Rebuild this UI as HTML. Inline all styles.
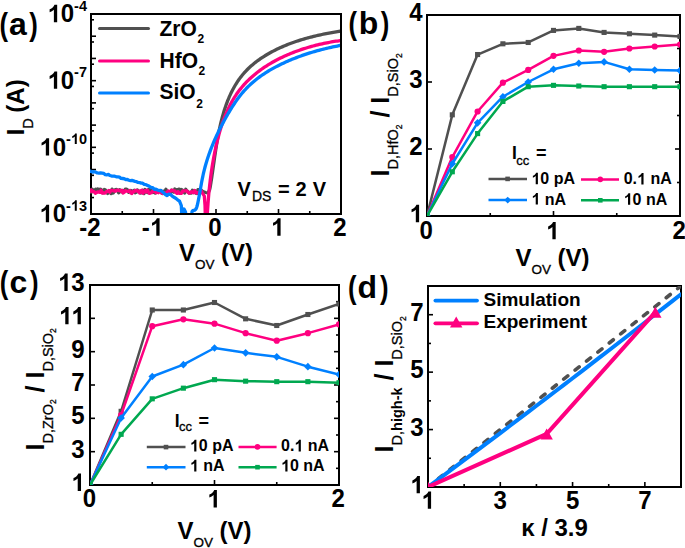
<!DOCTYPE html><html><head><meta charset="utf-8"><style>html,body{margin:0;padding:0;background:#fff;overflow:hidden}svg{display:block}text{font-family:"Liberation Sans",sans-serif}.sb,.sb2{stroke:#000;stroke-width:0.3px}</style></head><body><svg width="685" height="548" viewBox="0 0 685 548" font-family="Liberation Sans, sans-serif">
<rect width="685" height="548" fill="#fff"/>
<defs><clipPath id="ca"><rect x="90" y="13" width="250" height="200"/></clipPath></defs>
<rect x="91" y="14" width="250" height="200" fill="none" stroke="#000" stroke-width="2"/>
<line x1="91" y1="214" x2="91" y2="209" stroke="#000" stroke-width="1.6"/>
<line x1="153.5" y1="214" x2="153.5" y2="209" stroke="#000" stroke-width="1.6"/>
<line x1="216" y1="214" x2="216" y2="209" stroke="#000" stroke-width="1.6"/>
<line x1="278.5" y1="214" x2="278.5" y2="209" stroke="#000" stroke-width="1.6"/>
<line x1="341" y1="214" x2="341" y2="209" stroke="#000" stroke-width="1.6"/>
<line x1="122.25" y1="214" x2="122.25" y2="211" stroke="#000" stroke-width="1.6"/>
<line x1="184.75" y1="214" x2="184.75" y2="211" stroke="#000" stroke-width="1.6"/>
<line x1="247.25" y1="214" x2="247.25" y2="211" stroke="#000" stroke-width="1.6"/>
<line x1="309.75" y1="214" x2="309.75" y2="211" stroke="#000" stroke-width="1.6"/>
<line x1="91" y1="214" x2="96" y2="214" stroke="#000" stroke-width="1.6"/>
<line x1="91" y1="191.78" x2="96" y2="191.78" stroke="#000" stroke-width="1.6"/>
<line x1="91" y1="169.56" x2="96" y2="169.56" stroke="#000" stroke-width="1.6"/>
<line x1="91" y1="147.33" x2="96" y2="147.33" stroke="#000" stroke-width="1.6"/>
<line x1="91" y1="125.11" x2="96" y2="125.11" stroke="#000" stroke-width="1.6"/>
<line x1="91" y1="102.89" x2="96" y2="102.89" stroke="#000" stroke-width="1.6"/>
<line x1="91" y1="80.67" x2="96" y2="80.67" stroke="#000" stroke-width="1.6"/>
<line x1="91" y1="58.44" x2="96" y2="58.44" stroke="#000" stroke-width="1.6"/>
<line x1="91" y1="36.22" x2="96" y2="36.22" stroke="#000" stroke-width="1.6"/>
<line x1="91" y1="14" x2="96" y2="14" stroke="#000" stroke-width="1.6"/>
<line x1="91" y1="197.55" x2="94" y2="197.55" stroke="#000" stroke-width="1.6"/>
<line x1="91" y1="175.33" x2="94" y2="175.33" stroke="#000" stroke-width="1.6"/>
<line x1="91" y1="153.1" x2="94" y2="153.1" stroke="#000" stroke-width="1.6"/>
<line x1="91" y1="130.88" x2="94" y2="130.88" stroke="#000" stroke-width="1.6"/>
<line x1="91" y1="108.66" x2="94" y2="108.66" stroke="#000" stroke-width="1.6"/>
<line x1="91" y1="86.44" x2="94" y2="86.44" stroke="#000" stroke-width="1.6"/>
<line x1="91" y1="64.21" x2="94" y2="64.21" stroke="#000" stroke-width="1.6"/>
<line x1="91" y1="41.99" x2="94" y2="41.99" stroke="#000" stroke-width="1.6"/>
<line x1="91" y1="19.77" x2="94" y2="19.77" stroke="#000" stroke-width="1.6"/>
<g clip-path="url(#ca)">
<path d="M89,190.45 L90.1,189.62 L91.2,192.02 L92.3,189.25 L93.4,191.47 L94.5,190.66 L95.6,189.18 L96.7,191.34 L97.8,189.08 L98.9,190.98 L100,189.24 L101.1,189.34 L102.2,190.94 L103.3,192.87 L104.4,189.49 L105.5,189.97 L106.6,191.91 L107.7,193.45 L108.8,191.67 L109.9,190.8 L111,193.59 L112.1,189.12 L113.2,193.02 L114.3,190.29 L115.4,189.59 L116.5,189.47 L117.6,190.38 L118.7,192.82 L119.8,189.77 L120.9,191.69 L122,191.97 L123.1,190.69 L124.2,191.53 L125.3,189.2 L126.4,189.19 L127.5,189.89 L128.6,192.17 L129.7,190.95 L130.8,190.41 L131.9,191.71 L133,191.08 L134.1,190.34 L135.2,192.71 L136.3,192.26 L137.4,190.07 L138.5,191.66 L139.6,191.42 L140.7,193.1 L141.8,192.4 L142.9,190.28 L144,193.6 L145.1,189.47 L146.2,190.91 L147.3,192.53 L148.4,189.63 L149.5,191.25 L150.6,189.09 L151.7,192.11 L152.8,192.57 L153.9,191.65 L155,193.1 L156.1,190.41 L157.2,192.24 L158.3,191.75 L159.4,191.68 L160.5,191.09 L161.6,192.93 L162.7,193.43 L163.8,191.18 L164.9,192.09 L166,189.19 L167.1,192.27 L168.2,192.01 L169.3,193.67 L170.4,192.85 L171.5,190.27 L172.6,190.75 L173.7,192.11 L174.8,189.01 L175.9,191.12 L177,189.71 L178.1,189.46 L179.2,189.18 L180.3,192.59 L181.4,189.52 L182.5,190.09 L183.6,190.78 L184.7,193.08 L185.8,189.29 L186.9,191.06 L188,191.54 L189.1,193.14 L190.2,192.83 L191.3,193.05 L192.4,190.24 L193.5,190.89 L194.6,190.62 L195.7,193.14 L196.8,193.5 L197.9,189.62 L199,189.75 L200.1,190.01 L201.2,190.02 L202.3,191.23 L205.5,192.5 L208,193 L209.5,190 L209.97,188.33 L210.2,186.99 L210.43,185.65 L210.66,184.3 L210.88,182.94 L211.1,181.57 L211.32,180.19 L211.53,178.81 L211.75,177.42 L211.96,176.02 L212.16,174.62 L212.37,173.2 L212.58,171.78 L212.78,170.36 L212.98,168.93 L213.19,167.5 L213.39,166.06 L213.6,164.61 L213.8,163.16 L214.01,161.71 L214.21,160.25 L214.42,158.79 L214.63,157.33 L214.84,155.86 L215.06,154.39 L215.28,152.92 L215.5,151.44 L215.72,149.97 L215.95,148.49 L216.19,147.01 L216.42,145.53 L216.66,144.05 L216.91,142.57 L217.16,141.09 L217.42,139.62 L217.68,138.14 L217.95,136.66 L218.23,135.18 L218.51,133.71 L218.8,132.24 L219.1,130.77 L219.4,129.3 L219.72,127.83 L220.04,126.37 L220.37,124.91 L220.71,123.46 L221.06,122.01 L221.41,120.56 L221.78,119.12 L222.16,117.69 L222.55,116.25 L222.95,114.83 L223.36,113.41 L223.78,112 L224.21,110.59 L224.66,109.19 L225.12,107.79 L225.59,106.41 L226.07,105.03 L226.57,103.66 L227.08,102.3 L227.6,100.95 L228.14,99.6 L228.7,98.27 L229.26,96.94 L229.85,95.63 L230.45,94.32 L231.06,93.02 L231.69,91.74 L232.34,90.47 L233,89.2 L233.68,87.95 L234.38,86.71 L235.09,85.49 L235.82,84.27 L236.58,83.07 L237.35,81.89 L238.13,80.71 L238.94,79.55 L239.77,78.4 L240.61,77.27 L241.48,76.15 L242.37,75.05 L243.27,73.96 L244.2,72.89 L245.15,71.84 L246.12,70.8 L247.12,69.77 L248.13,68.77 L249.16,67.77 L250.21,66.8 L251.28,65.84 L252.37,64.89 L253.48,63.96 L254.61,63.05 L255.75,62.15 L256.9,61.27 L258.08,60.4 L259.27,59.55 L260.47,58.71 L261.69,57.88 L262.92,57.07 L264.17,56.28 L265.42,55.5 L266.69,54.73 L267.98,53.98 L269.27,53.24 L270.57,52.52 L271.89,51.81 L273.21,51.11 L274.54,50.43 L275.88,49.76 L277.23,49.11 L278.59,48.47 L279.95,47.84 L281.32,47.22 L282.69,46.62 L284.07,46.03 L285.46,45.45 L286.85,44.89 L288.24,44.34 L289.64,43.8 L291.04,43.27 L292.44,42.76 L293.85,42.26 L295.25,41.77 L296.66,41.29 L298.06,40.83 L299.47,40.38 L300.88,39.93 L302.28,39.5 L303.69,39.08 L305.09,38.68 L306.5,38.28 L307.9,37.89 L309.31,37.51 L310.71,37.14 L312.12,36.78 L313.52,36.43 L314.93,36.09 L316.34,35.76 L317.74,35.44 L319.15,35.12 L320.56,34.81 L321.97,34.51 L323.38,34.22 L324.79,33.94 L326.2,33.66 L327.61,33.38 L329.02,33.12 L330.43,32.86 L331.85,32.6 L333.26,32.35 L334.68,32.11 L336.1,31.87 L337.51,31.64 L338.93,31.41 L340.35,31.18 L341.77,30.96" fill="none" stroke="#505050" stroke-width="3.3" stroke-linejoin="round" stroke-linecap="round"/>
<path d="M89,192.1 L90.1,190.99 L91.2,190.11 L92.3,191.52 L93.4,191.36 L94.5,192.03 L95.6,193.34 L96.7,192.45 L97.8,191.85 L98.9,192.2 L100,192.4 L101.1,190.28 L102.2,193.16 L103.3,192.75 L104.4,193.07 L105.5,192.81 L106.6,191.43 L107.7,191.46 L108.8,190.45 L109.9,192.26 L111,190.31 L112.1,190.33 L113.2,190.81 L114.3,190.65 L115.4,191.26 L116.5,190.28 L117.6,190.1 L118.7,190.61 L119.8,190.44 L120.9,191.34 L122,190.19 L123.1,193.07 L124.2,192.19 L125.3,190.61 L126.4,190.96 L127.5,191.28 L128.6,191.34 L129.7,190.52 L130.8,192.99 L131.9,193.48 L133,191.68 L134.1,191.75 L135.2,190.39 L136.3,190.45 L137.4,191.26 L138.5,191 L139.6,192.92 L140.7,190.65 L141.8,190.18 L142.9,193.33 L144,191.9 L145.1,190.6 L146.2,191.95 L147.3,190.19 L148.4,191.9 L149.5,193.43 L150.6,193.04 L151.7,192.47 L152.8,190.99 L153.9,191.35 L155,190.67 L156.1,192.72 L157.2,191.91 L158.3,192.75 L159.4,191.22 L160.5,190.86 L161.6,192.86 L162.7,193.45 L163.8,193 L164.9,192.84 L166,192.88 L167.1,192.62 L168.2,190.87 L169.3,191.86 L170.4,191.31 L171.5,190.2 L172.6,190.19 L173.7,191.05 L174.8,190.98 L175.9,192.45 L177,193.35 L178.1,191.62 L179.2,193.29 L180.3,193.46 L181.4,193.35 L182.5,191.34 L183.6,190.85 L184.7,190.87 L185.8,190.77 L186.9,190.79 L188,192.22 L189.1,193.16 L190.2,192.96 L191.3,191.73 L192.4,192.32 L193.5,192.82 L194.6,190.39 L195.7,192.35 L196.8,193.19 L197.9,192.76 L199,192.65 L200.1,191.73 L201.2,190.71 L202.3,192.78 L204.3,196 L205,205 L205.3,216 L207.5,216 L207.3,214.27 L207.39,212.73 L207.49,211.19 L207.59,209.65 L207.69,208.1 L207.8,206.56 L207.91,205.02 L208.02,203.47 L208.14,201.93 L208.26,200.39 L208.38,198.84 L208.51,197.3 L208.64,195.75 L208.78,194.21 L208.93,192.66 L209.07,191.12 L209.23,189.57 L209.38,188.03 L209.55,186.48 L209.71,184.94 L209.89,183.39 L210.07,181.84 L210.25,180.3 L210.44,178.75 L210.64,177.2 L210.84,175.66 L211.05,174.11 L211.27,172.56 L211.49,171.02 L211.72,169.47 L211.95,167.92 L212.19,166.37 L212.44,164.83 L212.7,163.28 L212.96,161.73 L213.23,160.19 L213.51,158.64 L213.8,157.09 L214.09,155.54 L214.39,154 L214.7,152.45 L215.02,150.9 L215.35,149.36 L215.68,147.81 L216.02,146.26 L216.38,144.72 L216.74,143.17 L217.11,141.63 L217.49,140.08 L217.88,138.54 L218.28,137 L218.69,135.47 L219.11,133.93 L219.55,132.41 L219.99,130.88 L220.45,129.36 L220.92,127.84 L221.4,126.33 L221.89,124.83 L222.4,123.33 L222.92,121.84 L223.45,120.35 L224,118.87 L224.57,117.4 L225.14,115.94 L225.74,114.49 L226.35,113.05 L226.97,111.61 L227.61,110.19 L228.27,108.77 L228.94,107.37 L229.63,105.98 L230.34,104.6 L231.06,103.23 L231.8,101.88 L232.56,100.54 L233.34,99.21 L234.14,97.9 L234.96,96.6 L235.79,95.31 L236.65,94.04 L237.53,92.79 L238.42,91.55 L239.34,90.33 L240.28,89.12 L241.24,87.93 L242.22,86.76 L243.21,85.6 L244.23,84.46 L245.26,83.34 L246.32,82.23 L247.39,81.14 L248.48,80.06 L249.59,79 L250.71,77.95 L251.85,76.93 L253,75.91 L254.18,74.91 L255.37,73.93 L256.57,72.96 L257.79,72.01 L259.02,71.08 L260.27,70.15 L261.53,69.25 L262.8,68.36 L264.09,67.48 L265.39,66.62 L266.7,65.77 L268.02,64.94 L269.36,64.12 L270.7,63.32 L272.06,62.53 L273.43,61.75 L274.81,60.99 L276.2,60.25 L277.6,59.52 L279.01,58.8 L280.42,58.09 L281.85,57.4 L283.28,56.73 L284.72,56.07 L286.17,55.42 L287.63,54.78 L289.09,54.16 L290.56,53.56 L292.03,52.96 L293.51,52.38 L295,51.81 L296.49,51.26 L297.99,50.72 L299.49,50.19 L300.99,49.67 L302.5,49.17 L304.01,48.68 L305.52,48.21 L307.04,47.74 L308.56,47.29 L310.08,46.85 L311.6,46.42 L313.12,46.01 L314.65,45.61 L316.17,45.22 L317.69,44.84 L319.22,44.48 L320.74,44.12 L322.26,43.78 L323.78,43.45 L325.3,43.13 L326.82,42.83 L328.34,42.53 L329.85,42.25 L331.36,41.98 L332.86,41.72 L334.37,41.47 L335.86,41.23 L337.36,41.01 L338.84,40.79 L340.33,40.59 L341.81,40.39" fill="none" stroke="#ff0080" stroke-width="3.3" stroke-linejoin="round" stroke-linecap="round"/>
<path d="M89,170.73 L91,171.5 L92.58,172 L94.16,171.75 L95.75,172.08 L97.33,172.96 L98.91,173.06 L100.49,172.83 L102.07,173.12 L103.65,173.47 L105.24,174.55 L106.82,174.78 L108.4,174.45 L109.98,175.52 L111.55,176.06 L113.13,176.13 L114.71,176.22 L116.28,176.81 L117.86,176.78 L119.44,177.06 L121.02,178.41 L122.59,178.48 L124.17,178.75 L125.75,179.55 L127.32,179.44 L128.9,180.27 L130.43,180.64 L131.96,180.43 L133.49,180.88 L135.02,181.33 L136.55,181.69 L138.08,182.45 L139.61,182.53 L141.14,183.1 L142.67,183.22 L144.2,184.41 L145.9,184.6 L147.6,185.46 L149.3,186.33 L151,187.4 L152.7,187.67 L154.4,189.25 L156,189.18 L157.6,189.92 L159.2,190.58 L160.8,190.35 L162.4,191.79 L163.9,193.08 L165.4,194.51 L167.1,195.61 L168.8,194.14 L170.5,194.35 L172.23,196.17 L173.97,197.23 L175.7,198.19 L177.6,199.78 L179.5,201.1 L181.3,205.51 L181.8,216 L182.5,214 L184,209 L185.5,212 L186,216 L192.6,216 L191.89,212.99 L192.06,211.4 L192.77,210.68 L193.75,210.39 L194.74,210.09 L195.55,209.46 L196.19,208.53 L196.69,207.35 L197.09,206.02 L197.44,204.58 L197.77,203.11 L198.08,201.63 L198.39,200.13 L198.68,198.62 L198.97,197.1 L199.26,195.57 L199.54,194.03 L199.81,192.48 L200.09,190.92 L200.36,189.36 L200.64,187.79 L200.91,186.22 L201.2,184.65 L201.48,183.08 L201.77,181.5 L202.08,179.93 L202.39,178.36 L202.71,176.8 L203.04,175.24 L203.39,173.69 L203.75,172.14 L204.12,170.6 L204.51,169.06 L204.91,167.54 L205.32,166.02 L205.75,164.5 L206.19,162.99 L206.64,161.49 L207.1,159.99 L207.58,158.49 L208.07,157.01 L208.57,155.52 L209.08,154.05 L209.61,152.57 L210.14,151.11 L210.69,149.64 L211.25,148.19 L211.82,146.73 L212.4,145.28 L213,143.84 L213.6,142.4 L214.22,140.96 L214.84,139.53 L215.48,138.1 L216.12,136.67 L216.78,135.25 L217.44,133.84 L218.12,132.42 L218.81,131.01 L219.5,129.6 L220.21,128.2 L220.92,126.8 L221.64,125.4 L222.38,124 L223.12,122.61 L223.87,121.21 L224.63,119.82 L225.39,118.44 L226.17,117.05 L226.95,115.67 L227.75,114.29 L228.55,112.91 L229.36,111.54 L230.18,110.18 L231.01,108.82 L231.86,107.46 L232.71,106.12 L233.58,104.78 L234.46,103.46 L235.35,102.14 L236.26,100.84 L237.18,99.55 L238.11,98.27 L239.06,97.01 L240.03,95.76 L241.01,94.52 L242.01,93.31 L243.02,92.11 L244.05,90.93 L245.1,89.76 L246.17,88.62 L247.25,87.5 L248.36,86.4 L249.48,85.32 L250.62,84.25 L251.77,83.21 L252.94,82.19 L254.13,81.18 L255.33,80.19 L256.55,79.23 L257.78,78.27 L259.02,77.34 L260.28,76.42 L261.56,75.52 L262.84,74.64 L264.14,73.77 L265.45,72.92 L266.77,72.08 L268.1,71.26 L269.44,70.45 L270.79,69.66 L272.16,68.88 L273.53,68.12 L274.91,67.37 L276.3,66.63 L277.69,65.91 L279.1,65.2 L280.51,64.5 L281.93,63.82 L283.35,63.14 L284.78,62.48 L286.22,61.83 L287.66,61.19 L289.11,60.56 L290.56,59.94 L292.02,59.34 L293.49,58.75 L294.96,58.16 L296.43,57.59 L297.91,57.03 L299.39,56.48 L300.88,55.94 L302.37,55.42 L303.86,54.9 L305.36,54.39 L306.86,53.9 L308.37,53.41 L309.87,52.93 L311.38,52.47 L312.9,52.01 L314.41,51.57 L315.93,51.13 L317.45,50.71 L318.98,50.29 L320.5,49.89 L322.03,49.49 L323.55,49.1 L325.08,48.73 L326.61,48.36 L328.14,48 L329.67,47.65 L331.2,47.31 L332.74,46.98 L334.27,46.65 L335.8,46.34 L337.33,46.03 L338.86,45.74 L340.4,45.45 L341.93,45.17" fill="none" stroke="#0080ff" stroke-width="3.3" stroke-linejoin="round" stroke-linecap="round"/>
</g>
<path d="M833 0L552 0L552 1059Q398 915 189 846L189 1101Q299 1137 428 1237Q557 1338 605 1484L833 1484Z" transform="translate(47.41,22.2) scale(0.01172,-0.01172)"/>
<text x="60.76" y="22.2" font-size="24" font-weight="bold" transform="matrix(1,0,0,1.04,0,-0.89)">0</text>
<text x="74.11" y="10.7" font-size="14.5" font-weight="bold" transform="matrix(1,0,0,1.04,0,-0.43)">-4</text>
<path d="M833 0L552 0L552 1059Q398 915 189 846L189 1101Q299 1137 428 1237Q557 1338 605 1484L833 1484Z" transform="translate(47.41,88.87) scale(0.01172,-0.01172)"/>
<text x="60.76" y="88.87" font-size="24" font-weight="bold" transform="matrix(1,0,0,1.04,0,-3.55)">0</text>
<text x="74.11" y="77.37" font-size="14.5" font-weight="bold" transform="matrix(1,0,0,1.04,0,-3.09)">-7</text>
<path d="M833 0L552 0L552 1059Q398 915 189 846L189 1101Q299 1137 428 1237Q557 1338 605 1484L833 1484Z" transform="translate(39.35,155.53) scale(0.01172,-0.01172)"/>
<text x="52.7" y="155.53" font-size="24" font-weight="bold" transform="matrix(1,0,0,1.04,0,-6.22)">0</text>
<text x="66.04" y="144.03" font-size="14.5" font-weight="bold" transform="matrix(1,0,0,1.04,0,-5.76)">-</text>
<path d="M833 0L552 0L552 1059Q398 915 189 846L189 1101Q299 1137 428 1237Q557 1338 605 1484L833 1484Z" transform="translate(70.87,144.03) scale(0.00708,-0.00708)"/>
<text x="78.94" y="144.03" font-size="14.5" font-weight="bold" transform="matrix(1,0,0,1.04,0,-5.76)">0</text>
<path d="M833 0L552 0L552 1059Q398 915 189 846L189 1101Q299 1137 428 1237Q557 1338 605 1484L833 1484Z" transform="translate(39.35,222.2) scale(0.01172,-0.01172)"/>
<text x="52.7" y="222.2" font-size="24" font-weight="bold" transform="matrix(1,0,0,1.04,0,-8.89)">0</text>
<text x="66.04" y="210.7" font-size="14.5" font-weight="bold" transform="matrix(1,0,0,1.04,0,-8.43)">-</text>
<path d="M833 0L552 0L552 1059Q398 915 189 846L189 1101Q299 1137 428 1237Q557 1338 605 1484L833 1484Z" transform="translate(70.87,210.7) scale(0.00708,-0.00708)"/>
<text x="78.94" y="210.7" font-size="14.5" font-weight="bold" transform="matrix(1,0,0,1.04,0,-8.43)">3</text>
<text x="79.33" y="235.7" font-size="24" font-weight="bold" transform="matrix(1,0,0,1.04,0,-9.43)">-2</text>
<text x="141.83" y="235.7" font-size="24" font-weight="bold" transform="matrix(1,0,0,1.04,0,-9.43)">-</text>
<path d="M833 0L552 0L552 1059Q398 915 189 846L189 1101Q299 1137 428 1237Q557 1338 605 1484L833 1484Z" transform="translate(149.82,235.7) scale(0.01172,-0.01172)"/>
<text x="208.33" y="235.7" font-size="24" font-weight="bold" transform="matrix(1,0,0,1.04,0,-9.43)">0</text>
<path d="M833 0L552 0L552 1059Q398 915 189 846L189 1101Q299 1137 428 1237Q557 1338 605 1484L833 1484Z" transform="translate(270.83,235.7) scale(0.01172,-0.01172)"/>
<text x="333.33" y="235.7" font-size="24" font-weight="bold" transform="matrix(1,0,0,1.04,0,-9.43)">2</text>
<line x1="99.5" y1="28.5" x2="148.5" y2="28.5" stroke="#505050" stroke-width="3" stroke-linecap="round"/>
<text x="159.5" y="35.9" font-size="21" font-weight="bold" transform="matrix(1,0,0,1.03,0,-1.08)">ZrO<tspan font-size="12" dx="0.6" dy="7.2">2</tspan></text>
<line x1="99.5" y1="60.9" x2="148.5" y2="60.9" stroke="#ff0080" stroke-width="3" stroke-linecap="round"/>
<text x="159.5" y="68.2" font-size="21" font-weight="bold" transform="matrix(1,0,0,1.03,0,-2.05)">HfO<tspan font-size="12" dx="0.6" dy="6.6">2</tspan></text>
<line x1="99.5" y1="93" x2="148.5" y2="93" stroke="#0080ff" stroke-width="3" stroke-linecap="round"/>
<text x="159.5" y="99.3" font-size="21" font-weight="bold" transform="matrix(1,0,0,1.03,0,-2.98)">SiO<tspan font-size="12" dx="0.6" dy="8.3">2</tspan></text>
<text x="237.4" y="196.4" font-size="20" font-weight="bold" text-anchor="start"  transform="matrix(1,0,0,1.04,0,-7.86)">V</text>
<text x="252" y="200.8" font-size="14" font-weight="normal" class="sb">DS</text>
<text x="277.9" y="196.4" font-size="20" font-weight="bold" text-anchor="start" >=</text>
<text x="295.4" y="196.4" font-size="20" font-weight="bold" text-anchor="start"  transform="matrix(1,0,0,1.04,0,-7.86)">2</text>
<text x="312.8" y="196.4" font-size="20" font-weight="bold" text-anchor="start"  transform="matrix(1,0,0,1.04,0,-7.86)">V</text>
<text x="216" y="261.3" font-size="24" font-weight="bold" text-anchor="middle">V<tspan font-size="13.5" font-weight="normal" class="sb" dy="8">OV</tspan><tspan dy="-8"> (V)</tspan></text>
<text transform="translate(24,135.5) rotate(-90)" font-size="24.5" font-weight="bold">I<tspan font-size="14.5" font-weight="normal" class="sb" dy="8.9">D</tspan><tspan dy="-8.9" dx="-1.1" font-size="24"> (A)</tspan></text>
<text x="0" y="0" font-size="32" font-weight="bold" transform="translate(-0.57,34.6) scale(0.8,1)">(</text>
<text x="8.96" y="34.6" font-size="32" font-weight="bold">a</text>
<text x="0" y="0" font-size="32" font-weight="bold" transform="translate(29.25,34.6) scale(0.8,1)">)</text>
<defs><clipPath id="cb"><rect x="427" y="15" width="253" height="201"/></clipPath></defs>
<rect x="427" y="15" width="253" height="201" fill="none" stroke="#000" stroke-width="2"/>
<line x1="427" y1="216" x2="427" y2="211" stroke="#000" stroke-width="1.6"/>
<line x1="553.5" y1="216" x2="553.5" y2="211" stroke="#000" stroke-width="1.6"/>
<line x1="680" y1="216" x2="680" y2="211" stroke="#000" stroke-width="1.6"/>
<line x1="490.25" y1="216" x2="490.25" y2="213" stroke="#000" stroke-width="1.6"/>
<line x1="616.75" y1="216" x2="616.75" y2="213" stroke="#000" stroke-width="1.6"/>
<line x1="427" y1="149" x2="432" y2="149" stroke="#000" stroke-width="1.6"/>
<line x1="427" y1="82" x2="432" y2="82" stroke="#000" stroke-width="1.6"/>
<line x1="680" y1="149" x2="675" y2="149" stroke="#000" stroke-width="1.6"/>
<line x1="680" y1="82" x2="675" y2="82" stroke="#000" stroke-width="1.6"/>
<line x1="680" y1="182.5" x2="677" y2="182.5" stroke="#000" stroke-width="1.6"/>
<line x1="680" y1="115.5" x2="677" y2="115.5" stroke="#000" stroke-width="1.6"/>
<line x1="680" y1="48.5" x2="677" y2="48.5" stroke="#000" stroke-width="1.6"/>
<g clip-path="url(#cb)">
<polyline points="427,216 452.3,114.83 477.6,54.53 502.9,43.81 528.2,42.47 553.5,30.41 578.8,28.4 604.1,32.42 629.4,33.76 654.7,35.1 680,36.44" fill="none" stroke="#505050" stroke-width="2.5" stroke-linejoin="round" stroke-linecap="round" />
<rect x="424.45" y="213.45" width="5.1" height="5.1" fill="#505050"/>
<rect x="449.75" y="112.28" width="5.1" height="5.1" fill="#505050"/>
<rect x="475.05" y="51.98" width="5.1" height="5.1" fill="#505050"/>
<rect x="500.35" y="41.26" width="5.1" height="5.1" fill="#505050"/>
<rect x="525.65" y="39.92" width="5.1" height="5.1" fill="#505050"/>
<rect x="550.95" y="27.86" width="5.1" height="5.1" fill="#505050"/>
<rect x="576.25" y="25.85" width="5.1" height="5.1" fill="#505050"/>
<rect x="601.55" y="29.87" width="5.1" height="5.1" fill="#505050"/>
<rect x="626.85" y="31.21" width="5.1" height="5.1" fill="#505050"/>
<rect x="652.15" y="32.55" width="5.1" height="5.1" fill="#505050"/>
<rect x="677.45" y="33.89" width="5.1" height="5.1" fill="#505050"/>
<polyline points="427,216 452.3,157.04 477.6,111.48 502.9,82.67 528.2,69.94 553.5,55.87 578.8,50.51 604.1,51.85 629.4,48.5 654.7,46.49 680,44.48" fill="none" stroke="#ff0080" stroke-width="2.5" stroke-linejoin="round" stroke-linecap="round" />
<circle cx="427" cy="216" r="3.1" fill="#ff0080"/>
<circle cx="452.3" cy="157.04" r="3.1" fill="#ff0080"/>
<circle cx="477.6" cy="111.48" r="3.1" fill="#ff0080"/>
<circle cx="502.9" cy="82.67" r="3.1" fill="#ff0080"/>
<circle cx="528.2" cy="69.94" r="3.1" fill="#ff0080"/>
<circle cx="553.5" cy="55.87" r="3.1" fill="#ff0080"/>
<circle cx="578.8" cy="50.51" r="3.1" fill="#ff0080"/>
<circle cx="604.1" cy="51.85" r="3.1" fill="#ff0080"/>
<circle cx="629.4" cy="48.5" r="3.1" fill="#ff0080"/>
<circle cx="654.7" cy="46.49" r="3.1" fill="#ff0080"/>
<circle cx="680" cy="44.48" r="3.1" fill="#ff0080"/>
<polyline points="427,216 452.3,163.74 477.6,122.87 502.9,96.74 528.2,82 553.5,69.27 578.8,63.24 604.1,61.9 629.4,69.27 654.7,69.94 680,70.61" fill="none" stroke="#0080ff" stroke-width="2.5" stroke-linejoin="round" stroke-linecap="round" />
<path d="M427,212.2 L430.8,216 L427,219.8 L423.2,216Z" fill="#0080ff"/>
<path d="M452.3,159.94 L456.1,163.74 L452.3,167.54 L448.5,163.74Z" fill="#0080ff"/>
<path d="M477.6,119.07 L481.4,122.87 L477.6,126.67 L473.8,122.87Z" fill="#0080ff"/>
<path d="M502.9,92.94 L506.7,96.74 L502.9,100.54 L499.1,96.74Z" fill="#0080ff"/>
<path d="M528.2,78.2 L532,82 L528.2,85.8 L524.4,82Z" fill="#0080ff"/>
<path d="M553.5,65.47 L557.3,69.27 L553.5,73.07 L549.7,69.27Z" fill="#0080ff"/>
<path d="M578.8,59.44 L582.6,63.24 L578.8,67.04 L575,63.24Z" fill="#0080ff"/>
<path d="M604.1,58.1 L607.9,61.9 L604.1,65.7 L600.3,61.9Z" fill="#0080ff"/>
<path d="M629.4,65.47 L633.2,69.27 L629.4,73.07 L625.6,69.27Z" fill="#0080ff"/>
<path d="M654.7,66.14 L658.5,69.94 L654.7,73.74 L650.9,69.94Z" fill="#0080ff"/>
<path d="M680,66.81 L683.8,70.61 L680,74.41 L676.2,70.61Z" fill="#0080ff"/>
<polyline points="427,216 452.3,171.78 477.6,133.59 502.9,101.43 528.2,86.69 553.5,85.35 578.8,86.02 604.1,86.69 629.4,86.69 654.7,86.69 680,86.69" fill="none" stroke="#00a850" stroke-width="2.5" stroke-linejoin="round" stroke-linecap="round" />
<rect x="424.45" y="213.45" width="5.1" height="5.1" fill="#00a850"/>
<rect x="449.75" y="169.23" width="5.1" height="5.1" fill="#00a850"/>
<rect x="475.05" y="131.04" width="5.1" height="5.1" fill="#00a850"/>
<rect x="500.35" y="98.88" width="5.1" height="5.1" fill="#00a850"/>
<rect x="525.65" y="84.14" width="5.1" height="5.1" fill="#00a850"/>
<rect x="550.95" y="82.8" width="5.1" height="5.1" fill="#00a850"/>
<rect x="576.25" y="83.47" width="5.1" height="5.1" fill="#00a850"/>
<rect x="601.55" y="84.14" width="5.1" height="5.1" fill="#00a850"/>
<rect x="626.85" y="84.14" width="5.1" height="5.1" fill="#00a850"/>
<rect x="652.15" y="84.14" width="5.1" height="5.1" fill="#00a850"/>
<rect x="677.45" y="84.14" width="5.1" height="5.1" fill="#00a850"/>
</g>
<path d="M833 0L552 0L552 1059Q398 915 189 846L189 1101Q299 1137 428 1237Q557 1338 605 1484L833 1484Z" transform="translate(409.35,222.2) scale(0.01172,-0.01172)"/>
<text x="409.35" y="155.2" font-size="24" font-weight="bold" transform="matrix(1,0,0,1.04,0,-6.21)">2</text>
<text x="409.35" y="88.2" font-size="24" font-weight="bold" transform="matrix(1,0,0,1.04,0,-3.53)">3</text>
<text x="409.35" y="21.2" font-size="24" font-weight="bold" transform="matrix(1,0,0,1.04,0,-0.85)">4</text>
<text x="419.43" y="239.3" font-size="24" font-weight="bold" transform="matrix(1,0,0,1.04,0,-9.57)">0</text>
<path d="M833 0L552 0L552 1059Q398 915 189 846L189 1101Q299 1137 428 1237Q557 1338 605 1484L833 1484Z" transform="translate(545.93,239.3) scale(0.01172,-0.01172)"/>
<text x="672.43" y="239.3" font-size="24" font-weight="bold" transform="matrix(1,0,0,1.04,0,-9.57)">2</text>
<text x="512" y="159" font-size="17.5" font-weight="bold" text-anchor="start" >I</text>
<text x="516.2" y="165" font-size="13" font-weight="normal" class="sb">cc</text>
<text x="535.9" y="158.8" font-size="18" font-weight="bold" text-anchor="start" >=</text>
<line x1="488.5" y1="178.89999999999998" x2="527" y2="178.89999999999998" stroke="#505050" stroke-width="2.5"/>
<rect x="505.31" y="176.6" width="4.59" height="4.59" fill="#505050"/>
<path d="M833 0L552 0L552 1059Q398 915 189 846L189 1101Q299 1137 428 1237Q557 1338 605 1484L833 1484Z" transform="translate(531.4,184.3) scale(0.00781,-0.00781)"/>
<text x="540.3" y="184.3" font-size="16" font-weight="bold" transform="matrix(1,0,0,1.02,0,-3.69)">0 pA</text>
<line x1="581" y1="179.39999999999998" x2="619" y2="179.39999999999998" stroke="#ff0080" stroke-width="2.5"/>
<circle cx="600.3" cy="179.4" r="2.79" fill="#ff0080"/>
<text x="623.7" y="184.5" font-size="16" font-weight="bold" transform="matrix(1,0,0,1.04,0,-7.38)">0.</text>
<path d="M833 0L552 0L552 1059Q398 915 189 846L189 1101Q299 1137 428 1237Q557 1338 605 1484L833 1484Z" transform="translate(637.04,184.5) scale(0.00781,-0.00781)"/>
<text x="650.39" y="184.5" font-size="16" font-weight="bold" transform="matrix(1,0,0,1.02,0,-3.69)">nA</text>
<line x1="488.5" y1="200.1" x2="527" y2="200.1" stroke="#0080ff" stroke-width="2.5"/>
<path d="M507.7,196.68 L511.12,200.1 L507.7,203.52 L504.28,200.1Z" fill="#0080ff"/>
<path d="M833 0L552 0L552 1059Q398 915 189 846L189 1101Q299 1137 428 1237Q557 1338 605 1484L833 1484Z" transform="translate(531.4,204.6) scale(0.00781,-0.00781)"/>
<text x="544.74" y="204.6" font-size="16" font-weight="bold" transform="matrix(1,0,0,1.02,0,-4.09)">nA</text>
<line x1="581" y1="200.29999999999998" x2="619" y2="200.29999999999998" stroke="#00a850" stroke-width="2.5"/>
<rect x="598" y="198" width="4.59" height="4.59" fill="#00a850"/>
<path d="M833 0L552 0L552 1059Q398 915 189 846L189 1101Q299 1137 428 1237Q557 1338 605 1484L833 1484Z" transform="translate(623.7,204.8) scale(0.00781,-0.00781)"/>
<text x="632.6" y="204.8" font-size="16" font-weight="bold" transform="matrix(1,0,0,1.02,0,-4.1)">0 nA</text>
<text x="552.5" y="265.8" font-size="24" font-weight="bold" text-anchor="middle">V<tspan font-size="13.5" font-weight="normal" class="sb" dy="8">OV</tspan><tspan dy="-8"> (V)</tspan></text>
<text transform="translate(388.8,176.5) rotate(-90)" font-size="25" font-weight="bold">I<tspan font-size="14.5" font-weight="normal" class="sb" dy="8.8">D,HfO</tspan><tspan font-size="8.5" font-weight="normal" class="sb" dy="4">2</tspan><tspan dy="-12.8"> / I</tspan><tspan font-size="14.5" font-weight="normal" class="sb" dy="8.8">D,SiO</tspan><tspan font-size="8.5" font-weight="normal" class="sb" dy="4">2</tspan></text>
<text x="0" y="0" font-size="32" font-weight="bold" transform="translate(348.43,34.4) scale(0.8,1)">(</text>
<text x="358.79" y="34.4" font-size="32" font-weight="bold">b</text>
<text x="0" y="0" font-size="32" font-weight="bold" transform="translate(380.75,34.4) scale(0.8,1)">)</text>
<defs><clipPath id="cc"><rect x="90" y="285" width="249" height="200"/></clipPath></defs>
<rect x="90" y="285" width="249" height="200" fill="none" stroke="#000" stroke-width="2"/>
<line x1="90" y1="485" x2="90" y2="480" stroke="#000" stroke-width="1.6"/>
<line x1="214.5" y1="485" x2="214.5" y2="480" stroke="#000" stroke-width="1.6"/>
<line x1="339" y1="485" x2="339" y2="480" stroke="#000" stroke-width="1.6"/>
<line x1="152.25" y1="485" x2="152.25" y2="482" stroke="#000" stroke-width="1.6"/>
<line x1="276.75" y1="485" x2="276.75" y2="482" stroke="#000" stroke-width="1.6"/>
<line x1="90" y1="451.67" x2="95" y2="451.67" stroke="#000" stroke-width="1.6"/>
<line x1="90" y1="418.33" x2="95" y2="418.33" stroke="#000" stroke-width="1.6"/>
<line x1="90" y1="385" x2="95" y2="385" stroke="#000" stroke-width="1.6"/>
<line x1="90" y1="351.67" x2="95" y2="351.67" stroke="#000" stroke-width="1.6"/>
<line x1="90" y1="318.33" x2="95" y2="318.33" stroke="#000" stroke-width="1.6"/>
<line x1="339" y1="451.67" x2="334" y2="451.67" stroke="#000" stroke-width="1.6"/>
<line x1="339" y1="418.33" x2="334" y2="418.33" stroke="#000" stroke-width="1.6"/>
<line x1="339" y1="385" x2="334" y2="385" stroke="#000" stroke-width="1.6"/>
<line x1="339" y1="351.67" x2="334" y2="351.67" stroke="#000" stroke-width="1.6"/>
<line x1="339" y1="318.33" x2="334" y2="318.33" stroke="#000" stroke-width="1.6"/>
<line x1="339" y1="468.33" x2="336" y2="468.33" stroke="#000" stroke-width="1.6"/>
<line x1="339" y1="435" x2="336" y2="435" stroke="#000" stroke-width="1.6"/>
<line x1="339" y1="401.67" x2="336" y2="401.67" stroke="#000" stroke-width="1.6"/>
<line x1="339" y1="368.33" x2="336" y2="368.33" stroke="#000" stroke-width="1.6"/>
<line x1="339" y1="335" x2="336" y2="335" stroke="#000" stroke-width="1.6"/>
<line x1="339" y1="301.67" x2="336" y2="301.67" stroke="#000" stroke-width="1.6"/>
<g clip-path="url(#cc)">
<polyline points="90,485 121.12,411.33 152.25,310 183.38,310 214.5,302.5 245.62,318.83 276.75,325.5 307.88,314.5 339,304" fill="none" stroke="#505050" stroke-width="2.5" stroke-linejoin="round" stroke-linecap="round" />
<rect x="87.45" y="482.45" width="5.1" height="5.1" fill="#505050"/>
<rect x="118.58" y="408.78" width="5.1" height="5.1" fill="#505050"/>
<rect x="149.7" y="307.45" width="5.1" height="5.1" fill="#505050"/>
<rect x="180.82" y="307.45" width="5.1" height="5.1" fill="#505050"/>
<rect x="211.95" y="299.95" width="5.1" height="5.1" fill="#505050"/>
<rect x="243.07" y="316.28" width="5.1" height="5.1" fill="#505050"/>
<rect x="274.2" y="322.95" width="5.1" height="5.1" fill="#505050"/>
<rect x="305.32" y="311.95" width="5.1" height="5.1" fill="#505050"/>
<rect x="336.45" y="301.45" width="5.1" height="5.1" fill="#505050"/>
<polyline points="90,485 121.12,415 152.25,326.17 183.38,319.33 214.5,323.67 245.62,333.17 276.75,340.67 307.88,333.17 339,324.33" fill="none" stroke="#ff0080" stroke-width="2.5" stroke-linejoin="round" stroke-linecap="round" />
<circle cx="90" cy="485" r="3.1" fill="#ff0080"/>
<circle cx="121.12" cy="415" r="3.1" fill="#ff0080"/>
<circle cx="152.25" cy="326.17" r="3.1" fill="#ff0080"/>
<circle cx="183.38" cy="319.33" r="3.1" fill="#ff0080"/>
<circle cx="214.5" cy="323.67" r="3.1" fill="#ff0080"/>
<circle cx="245.62" cy="333.17" r="3.1" fill="#ff0080"/>
<circle cx="276.75" cy="340.67" r="3.1" fill="#ff0080"/>
<circle cx="307.88" cy="333.17" r="3.1" fill="#ff0080"/>
<circle cx="339" cy="324.33" r="3.1" fill="#ff0080"/>
<polyline points="90,485 121.12,418 152.25,376.5 183.38,364.67 214.5,348 245.62,352.83 276.75,356.83 307.88,366.67 339,374.5" fill="none" stroke="#0080ff" stroke-width="2.5" stroke-linejoin="round" stroke-linecap="round" />
<path d="M90,481.2 L93.8,485 L90,488.8 L86.2,485Z" fill="#0080ff"/>
<path d="M121.12,414.2 L124.92,418 L121.12,421.8 L117.33,418Z" fill="#0080ff"/>
<path d="M152.25,372.7 L156.05,376.5 L152.25,380.3 L148.45,376.5Z" fill="#0080ff"/>
<path d="M183.38,360.87 L187.18,364.67 L183.38,368.47 L179.57,364.67Z" fill="#0080ff"/>
<path d="M214.5,344.2 L218.3,348 L214.5,351.8 L210.7,348Z" fill="#0080ff"/>
<path d="M245.62,349.03 L249.43,352.83 L245.62,356.63 L241.82,352.83Z" fill="#0080ff"/>
<path d="M276.75,353.03 L280.55,356.83 L276.75,360.63 L272.95,356.83Z" fill="#0080ff"/>
<path d="M307.88,362.87 L311.68,366.67 L307.88,370.47 L304.07,366.67Z" fill="#0080ff"/>
<path d="M339,370.7 L342.8,374.5 L339,378.3 L335.2,374.5Z" fill="#0080ff"/>
<polyline points="90,485 121.12,434.33 152.25,398.83 183.38,388.17 214.5,379.67 245.62,381.17 276.75,381.67 307.88,381.67 339,382.67" fill="none" stroke="#00a850" stroke-width="2.5" stroke-linejoin="round" stroke-linecap="round" />
<rect x="87.45" y="482.45" width="5.1" height="5.1" fill="#00a850"/>
<rect x="118.58" y="431.78" width="5.1" height="5.1" fill="#00a850"/>
<rect x="149.7" y="396.28" width="5.1" height="5.1" fill="#00a850"/>
<rect x="180.82" y="385.62" width="5.1" height="5.1" fill="#00a850"/>
<rect x="211.95" y="377.12" width="5.1" height="5.1" fill="#00a850"/>
<rect x="243.07" y="378.62" width="5.1" height="5.1" fill="#00a850"/>
<rect x="274.2" y="379.12" width="5.1" height="5.1" fill="#00a850"/>
<rect x="305.32" y="379.12" width="5.1" height="5.1" fill="#00a850"/>
<rect x="336.45" y="380.12" width="5.1" height="5.1" fill="#00a850"/>
</g>
<path d="M833 0L552 0L552 1059Q398 915 189 846L189 1101Q299 1137 428 1237Q557 1338 605 1484L833 1484Z" transform="translate(71.25,491) scale(0.01172,-0.01172)"/>
<text x="71.25" y="457.67" font-size="24" font-weight="bold" transform="matrix(1,0,0,1.04,0,-18.31)">3</text>
<text x="71.25" y="424.33" font-size="24" font-weight="bold" transform="matrix(1,0,0,1.04,0,-16.97)">5</text>
<text x="71.25" y="391" font-size="24" font-weight="bold" transform="matrix(1,0,0,1.04,0,-15.64)">7</text>
<text x="71.25" y="357.67" font-size="24" font-weight="bold" transform="matrix(1,0,0,1.04,0,-14.31)">9</text>
<path d="M833 0L552 0L552 1059Q398 915 189 846L189 1101Q299 1137 428 1237Q557 1338 605 1484L833 1484Z" transform="translate(58.8,324.33) scale(0.01172,-0.01172)"/>
<path d="M833 0L552 0L552 1059Q398 915 189 846L189 1101Q299 1137 428 1237Q557 1338 605 1484L833 1484Z" transform="translate(71.1,324.33) scale(0.01172,-0.01172)"/>
<path d="M833 0L552 0L552 1059Q398 915 189 846L189 1101Q299 1137 428 1237Q557 1338 605 1484L833 1484Z" transform="translate(57.9,291) scale(0.01172,-0.01172)"/>
<text x="71.25" y="291" font-size="24" font-weight="bold" transform="matrix(1,0,0,1.04,0,-11.64)">3</text>
<text x="82.63" y="507.5" font-size="24" font-weight="bold" transform="matrix(1,0,0,1.04,0,-20.3)">0</text>
<path d="M833 0L552 0L552 1059Q398 915 189 846L189 1101Q299 1137 428 1237Q557 1338 605 1484L833 1484Z" transform="translate(207.13,507.5) scale(0.01172,-0.01172)"/>
<text x="331.63" y="507.5" font-size="24" font-weight="bold" transform="matrix(1,0,0,1.04,0,-20.3)">2</text>
<text x="174.7" y="427" font-size="17.5" font-weight="bold" text-anchor="start" >I</text>
<text x="179.1" y="431.3" font-size="13" font-weight="normal" class="sb">cc</text>
<text x="198.5" y="426.8" font-size="18" font-weight="bold" text-anchor="start" >=</text>
<line x1="146.8" y1="447.09999999999997" x2="185.5" y2="447.09999999999997" stroke="#505050" stroke-width="2.5"/>
<rect x="163.71" y="444.8" width="4.59" height="4.59" fill="#505050"/>
<path d="M833 0L552 0L552 1059Q398 915 189 846L189 1101Q299 1137 428 1237Q557 1338 605 1484L833 1484Z" transform="translate(189.9,451.4) scale(0.00781,-0.00781)"/>
<text x="198.8" y="451.4" font-size="16" font-weight="bold" transform="matrix(1,0,0,1.02,0,-9.03)">0 pA</text>
<line x1="238.5" y1="446.9" x2="276.6" y2="446.9" stroke="#ff0080" stroke-width="2.5"/>
<circle cx="257.5" cy="446.9" r="2.79" fill="#ff0080"/>
<text x="281" y="451.4" font-size="16" font-weight="bold" transform="matrix(1,0,0,1.04,0,-18.06)">0.</text>
<path d="M833 0L552 0L552 1059Q398 915 189 846L189 1101Q299 1137 428 1237Q557 1338 605 1484L833 1484Z" transform="translate(294.34,451.4) scale(0.00781,-0.00781)"/>
<text x="307.69" y="451.4" font-size="16" font-weight="bold" transform="matrix(1,0,0,1.02,0,-9.03)">nA</text>
<line x1="146.8" y1="467.2" x2="185.5" y2="467.2" stroke="#0080ff" stroke-width="2.5"/>
<path d="M166,463.78 L169.42,467.2 L166,470.62 L162.58,467.2Z" fill="#0080ff"/>
<path d="M833 0L552 0L552 1059Q398 915 189 846L189 1101Q299 1137 428 1237Q557 1338 605 1484L833 1484Z" transform="translate(189.9,471.4) scale(0.00781,-0.00781)"/>
<text x="203.24" y="471.4" font-size="16" font-weight="bold" transform="matrix(1,0,0,1.02,0,-9.43)">nA</text>
<line x1="238.5" y1="467.2" x2="276.6" y2="467.2" stroke="#00a850" stroke-width="2.5"/>
<rect x="255.21" y="464.9" width="4.59" height="4.59" fill="#00a850"/>
<path d="M833 0L552 0L552 1059Q398 915 189 846L189 1101Q299 1137 428 1237Q557 1338 605 1484L833 1484Z" transform="translate(281,471.4) scale(0.00781,-0.00781)"/>
<text x="289.9" y="471.4" font-size="16" font-weight="bold" transform="matrix(1,0,0,1.02,0,-9.43)">0 nA</text>
<text x="214.5" y="539.1" font-size="24" font-weight="bold" text-anchor="middle">V<tspan font-size="13.5" font-weight="normal" class="sb" dy="8">OV</tspan><tspan dy="-8"> (V)</tspan></text>
<text transform="translate(43.7,450.5) rotate(-90)" font-size="25" font-weight="bold">I<tspan font-size="14.5" font-weight="normal" class="sb" dy="8.8">D,ZrO</tspan><tspan font-size="8.5" font-weight="normal" class="sb" dy="4">2</tspan><tspan dy="-12.8"> / I</tspan><tspan font-size="14.5" font-weight="normal" class="sb" dy="8.8">D,SiO</tspan><tspan font-size="8.5" font-weight="normal" class="sb" dy="4">2</tspan></text>
<text x="0" y="0" font-size="32" font-weight="bold" transform="translate(-0.27,293.4) scale(0.8,1)">(</text>
<text x="9.45" y="293.4" font-size="32" font-weight="bold">c</text>
<text x="0" y="0" font-size="32" font-weight="bold" transform="translate(30.05,293.4) scale(0.8,1)">)</text>
<defs><clipPath id="cd"><rect x="428" y="286" width="253" height="201"/></clipPath></defs>
<rect x="428" y="286" width="253" height="201" fill="none" stroke="#000" stroke-width="2"/>
<line x1="428" y1="487" x2="428" y2="482" stroke="#000" stroke-width="1.6"/>
<line x1="500.29" y1="487" x2="500.29" y2="482" stroke="#000" stroke-width="1.6"/>
<line x1="572.57" y1="487" x2="572.57" y2="482" stroke="#000" stroke-width="1.6"/>
<line x1="644.86" y1="487" x2="644.86" y2="482" stroke="#000" stroke-width="1.6"/>
<line x1="464.14" y1="487" x2="464.14" y2="484" stroke="#000" stroke-width="1.6"/>
<line x1="536.43" y1="487" x2="536.43" y2="484" stroke="#000" stroke-width="1.6"/>
<line x1="608.71" y1="487" x2="608.71" y2="484" stroke="#000" stroke-width="1.6"/>
<line x1="428" y1="429.57" x2="433" y2="429.57" stroke="#000" stroke-width="1.6"/>
<line x1="428" y1="372.14" x2="433" y2="372.14" stroke="#000" stroke-width="1.6"/>
<line x1="428" y1="314.71" x2="433" y2="314.71" stroke="#000" stroke-width="1.6"/>
<line x1="428" y1="458.29" x2="431" y2="458.29" stroke="#000" stroke-width="1.6"/>
<line x1="428" y1="400.86" x2="431" y2="400.86" stroke="#000" stroke-width="1.6"/>
<line x1="428" y1="343.43" x2="431" y2="343.43" stroke="#000" stroke-width="1.6"/>
<g clip-path="url(#cd)">
<line x1="428.0" y1="487.0" x2="681.0" y2="286.0" stroke="#505050" stroke-width="3.6" stroke-dasharray="5.2 9.35" stroke-dashoffset="1.3" stroke-linecap="round"/>
<polyline points="428,487 437.04,480.31 446.07,473.6 455.11,466.88 464.14,460.15 473.18,453.4 482.21,446.64 491.25,439.86 500.29,433.07 509.32,426.26 518.36,419.44 527.39,412.61 536.43,405.76 545.46,398.9 554.5,392.02 563.54,385.13 572.57,378.23 581.61,371.31 590.64,364.38 599.68,357.43 608.71,350.47 617.75,343.49 626.79,336.5 635.82,329.5 644.86,322.48 653.89,315.45 662.93,308.4 671.96,301.34 681,294.26" fill="none" stroke="#0080ff" stroke-width="4" stroke-linejoin="round" stroke-linecap="round" />
<polyline points="428,487 546.69,433.88 655.34,312.13" fill="none" stroke="#ff0080" stroke-width="4" stroke-linejoin="round" stroke-linecap="round" />
<path d="M428,481.5 L434.2,492.5 L421.8,492.5Z" fill="#ff0080"/>
<path d="M546.69,428.38 L552.89,439.38 L540.49,439.38Z" fill="#ff0080"/>
<path d="M655.34,306.63 L661.54,317.63 L649.14,317.63Z" fill="#ff0080"/>
</g>
<path d="M833 0L552 0L552 1059Q398 915 189 846L189 1101Q299 1137 428 1237Q557 1338 605 1484L833 1484Z" transform="translate(410.15,493.3) scale(0.01172,-0.01172)"/>
<text x="410.15" y="435.87" font-size="24" font-weight="bold" transform="matrix(1,0,0,1.04,0,-17.43)">3</text>
<text x="410.15" y="378.44" font-size="24" font-weight="bold" transform="matrix(1,0,0,1.04,0,-15.14)">5</text>
<text x="410.15" y="321.01" font-size="24" font-weight="bold" transform="matrix(1,0,0,1.04,0,-12.84)">7</text>
<path d="M833 0L552 0L552 1059Q398 915 189 846L189 1101Q299 1137 428 1237Q557 1338 605 1484L833 1484Z" transform="translate(421.33,508.8) scale(0.01172,-0.01172)"/>
<text x="493.61" y="508.8" font-size="24" font-weight="bold" transform="matrix(1,0,0,1.04,0,-20.35)">3</text>
<text x="565.9" y="508.8" font-size="24" font-weight="bold" transform="matrix(1,0,0,1.04,0,-20.35)">5</text>
<text x="638.18" y="508.8" font-size="24" font-weight="bold" transform="matrix(1,0,0,1.04,0,-20.35)">7</text>
<line x1="435.4" y1="300.6" x2="477" y2="300.6" stroke="#0080ff" stroke-width="3.8" stroke-linecap="round"/>
<line x1="435.4" y1="323.3" x2="477" y2="323.3" stroke="#ff0080" stroke-width="3.8" stroke-linecap="round"/>
<path d="M456.2,316.6 L462.4,327.6 L450,327.6Z" fill="#ff0080"/>
<text x="483.5" y="306" font-size="19" font-weight="bold" text-anchor="start" >Simulation</text>
<text x="483.5" y="327.9" font-size="19" font-weight="bold" text-anchor="start" >Experiment</text>
<text x="554.5" y="535.8" font-size="24" font-weight="bold" text-anchor="middle">κ / 3.9</text>
<text transform="translate(393,452.4) rotate(-90)" font-size="25" font-weight="bold">I<tspan font-size="14.5" font-weight="normal" class="sb" dy="8.8">D,</tspan><tspan font-size="14.5" font-weight="bold">high-k</tspan><tspan dy="-8.8"> / I</tspan><tspan font-size="14.5" font-weight="normal" class="sb" dy="8.8">D,SiO</tspan><tspan font-size="8.5" font-weight="normal" class="sb" dy="4">2</tspan></text>
<text x="0" y="0" font-size="32" font-weight="bold" transform="translate(348.03,298.2) scale(0.8,1)">(</text>
<text x="357.39" y="298.2" font-size="32" font-weight="bold">d</text>
<text x="0" y="0" font-size="32" font-weight="bold" transform="translate(380.05,298.2) scale(0.8,1)">)</text>
</svg></body></html>
